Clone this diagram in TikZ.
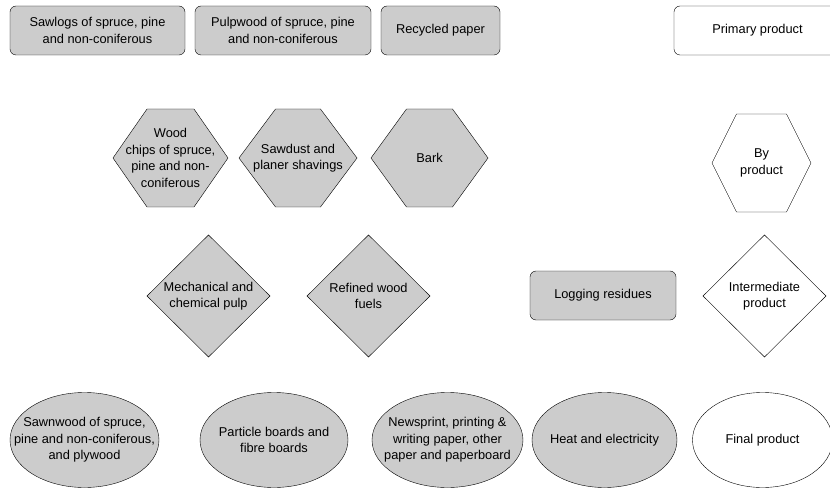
\documentclass[tikz,border=0pt]{standalone}
\usepackage{fontspec}
\setmainfont{Liberation Sans}
\usetikzlibrary{calc}
\usetikzlibrary{positioning}

\begin{document}
\begin{tikzpicture}[x=1pt, y=-1pt,
    every node/.style={font=\fontsize{12.8}{16.5}\selectfont, align=center, inner sep=0pt},
    prodbox/.style={draw, rounded corners=6pt, minimum height=49pt},
    greybox/.style={prodbox, fill=black!20}]

        \useasboundingbox (0,0) rectangle (830,489);

        % centres of the drawn shapes
        \coordinate (woodc) at (170.5,158);
        \coordinate (sawdustc) at (298,158);
        \coordinate (barkc) at (429.5,158);
        \coordinate (byc) at (761.5,163);
        \coordinate (mechc) at (208.5,296);
        \coordinate (refinedc) at (368.5,296);
        \coordinate (interc) at (764.5,296);
        \coordinate (sawnc) at (84.5,440);
        \coordinate (particlec) at (274,440);
        \coordinate (newsc) at (447.5,440);
        \coordinate (heatc) at (604.5,440);
        \coordinate (finalc) at (762.5,440);

        % primary products
        \node[greybox, minimum width=175pt] (sawlogs) at (97.5,30.5) {Sawlogs of spruce, pine\\and non-coniferous};
        \node[greybox, minimum width=176pt] (pulpwood) at (283,30.5) {Pulpwood of spruce, pine\\and non-coniferous};
        \node[greybox, minimum width=119pt] (recycled) at (440.5,30.5) {Recycled paper};
        \path[draw, rounded corners=6pt] (674,6) rectangle (870,55);
        \node (primary) at (757.5,30.5) {Primary product};
        \node[greybox, minimum width=146pt] (logging) at (603,295.5) {Logging residues};

        % by products
        \path[draw, fill=black!20] (woodc) ++(-57.5,0) -- ++(34,-49) -- ++(47,0) -- ++(34,49) -- ++(-34,49) -- ++(-47,0) -- cycle;
        \path[draw, fill=black!20] (sawdustc) ++(-59,0) -- ++(36.5,-49) -- ++(45,0) -- ++(36.5,49) -- ++(-36.5,49) -- ++(-45,0) -- cycle;
        \path[draw, fill=black!20] (barkc) ++(-58.5,0) -- ++(35.5,-49) -- ++(46,0) -- ++(35.5,49) -- ++(-35.5,49) -- ++(-46,0) -- cycle;
        \path[draw] (byc) ++(-49.5,0) -- ++(24.5,-49) -- ++(50,0) -- ++(24.5,49) -- ++(-24.5,49) -- ++(-50,0) -- cycle;

        \node (wood) at (woodc) {Wood\\chips of spruce,\\pine and non-\\coniferous};
        \node (sawdust) at (sawdustc) {Sawdust and\\planer shavings};
        \node (bark) at (barkc) {Bark};
        \node (by) at (byc) {By\\product};

        % intermediate products
        \foreach \d in {mechc, refinedc}
            \path[draw, fill=black!20] (\d) ++(-61.5,0) -- ++(61.5,-61) -- ++(61.5,61) -- ++(-61.5,61) -- cycle;
        \path[draw] (interc) ++(-61.5,0) -- ++(61.5,-61) -- ++(61.5,61) -- ++(-61.5,61) -- cycle;

        \node (mech) at (mechc) {Mechanical and\\chemical pulp};
        \node (refined) at (refinedc) {Refined wood\\fuels};
        \node (inter) at (interc) {Intermediate\\product};

        % final products
        \path[draw, fill=black!20] (sawnc) ellipse (74.5pt and 47.5pt);
        \path[draw, fill=black!20] (particlec) ellipse (74pt and 47.5pt);
        \path[draw, fill=black!20] (newsc) ellipse (75.5pt and 47.5pt);
        \path[draw, fill=black!20] (heatc) ellipse (72.5pt and 47.5pt);
        \path[draw] (finalc) ellipse (70pt and 47.5pt);

        \node (sawn) at (sawnc) {Sawnwood of spruce,\\pine and non-coniferous,\\and plywood};
        \node (particle) at (particlec) {Particle boards and\\fibre boards};
        \node (news) at (newsc) {Newsprint, printing \&\\writing paper, other\\paper and paperboard};
        \node (heat) at (heatc) {Heat and electricity};
        \node (final) at (finalc) {Final product};

    \end{tikzpicture}
\end{document}
